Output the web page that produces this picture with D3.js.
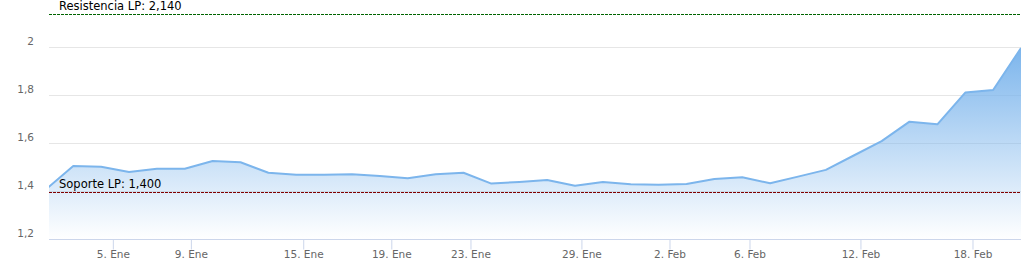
<!DOCTYPE html>
<head>
    <meta charset="utf-8">
    <title>Cotización</title>
    <script src="https://d3js.org/d3.v7.min.js"></script>
    <style>
        body { margin: 0; background: #fff; }
        text { font-family: "DejaVu Sans", Verdana, sans-serif; }
    </style>
</head>
<body>
    <script>
        // valores de cierre, una sesión por punto
        const values = [1.407, 1.506, 1.503, 1.481, 1.495, 1.495, 1.527, 1.522, 1.478, 1.470,
                        1.470, 1.472, 1.465, 1.455, 1.472, 1.478, 1.433, 1.440, 1.448, 1.424,
                        1.440, 1.430, 1.428, 1.431, 1.452, 1.459, 1.434, 1.462, 1.490, 1.550,
                        1.610, 1.691, 1.680, 1.812, 1.823, 1.998]
        // posiciones (en sesiones) de las marcas del eje de fechas
        const tickPos = [2.42, 5.22, 9.25, 12.41, 15.25, 19.23, 22.39, 25.26, 29.24, 33.26]
        const tickLabels = ["5. Ene", "9. Ene", "15. Ene", "19. Ene", "23. Ene",
                            "29. Ene", "2. Feb", "6. Feb", "12. Feb", "18. Feb"]
        const yTicks = [1.2, 1.4, 1.6, 1.8, 2]
        const resistencia = 2.14
        const soporte = 1.4

        const width = 1026
        const height = 272
        const plotLeft = 49, plotRight = 1021, plotTop = 0, plotBottom = 239.5

        const es = d3.formatLocale({decimal: ",", thousands: ".", grouping: [3], currency: ["", " €"]})
        const fmtAxis = es.format("~g")
        const fmtLevel = es.format(".3f")

        const svg = d3.select("body").append("svg")
            .attr("width", width)
            .attr("height", height)

        const x = d3.scaleLinear().domain([0.13, values.length - 1]).range([plotLeft, plotRight])
        const y = d3.scaleLinear().domain([1.2, 2]).range([plotBottom, 47.5])

        const defs = svg.append("defs")
        const grad = defs.append("linearGradient")
            .attr("id", "fill")
            .attr("x1", 0).attr("y1", 0).attr("x2", 0).attr("y2", 1)
        grad.append("stop").attr("offset", 0).attr("stop-color", "#7cb5ec").attr("stop-opacity", 1)
        grad.append("stop").attr("offset", 1).attr("stop-color", "#7cb5ec").attr("stop-opacity", 0)

        defs.append("clipPath").attr("id", "plot")
            .append("rect")
            .attr("x", plotLeft).attr("y", plotTop)
            .attr("width", plotRight - plotLeft).attr("height", plotBottom - plotTop)

        // rejilla
        svg.append("g")
            .selectAll("line")
            .data(yTicks)
            .join("line")
                .attr("x1", plotLeft).attr("x2", plotRight)
                .attr("y1", (d) => y(d)).attr("y2", (d) => y(d))
                .attr("stroke", "#e6e6e6")

        const plot = svg.append("g").attr("clip-path", "url(#plot)")

        plot.append("path")
            .datum(values)
            .attr("fill", "url(#fill)")
            .attr("d", d3.area()
                .x((d, i) => x(i))
                .y0(plotBottom)
                .y1((d) => y(d)))

        plot.append("path")
            .datum(values)
            .attr("fill", "none")
            .attr("stroke", "#7cb5ec")
            .attr("stroke-width", 2)
            .attr("stroke-linejoin", "round")
            .attr("d", d3.line()
                .x((d, i) => x(i))
                .y((d) => y(d)))

        // eje x
        const xAxis = svg.append("g")
            .attr("transform", `translate(0, ${plotBottom})`)
            .call(d3.axisBottom(x)
                .tickValues(tickPos)
                .tickFormat((d, i) => tickLabels[i])
                .tickSize(10)
                .tickPadding(1))
        xAxis.select(".domain").attr("d", `M${plotLeft},0H${plotRight}`).attr("stroke", "#ccd6eb")
        xAxis.selectAll(".tick line").attr("stroke", "#ccd6eb")
        xAxis.selectAll(".tick text")
            .attr("fill", "#666")
            .style("font-size", "10.5px")
            .style("font-family", "'DejaVu Sans', Verdana, sans-serif")

        // eje y
        const yAxis = svg.append("g")
            .attr("transform", `translate(${plotLeft}, 0)`)
            .call(d3.axisLeft(y)
                .tickValues(yTicks)
                .tickFormat(fmtAxis)
                .tickSize(0)
                .tickPadding(15))
        yAxis.select(".domain").remove()
        yAxis.selectAll(".tick text")
            .attr("fill", "#666")
            .attr("dy", "-0.24em")
            .style("font-size", "10.5px")
            .style("font-family", "'DejaVu Sans', Verdana, sans-serif")

        // líneas de resistencia y soporte
        const levels = [
            {name: "Resistencia LP", value: resistencia, color: "#006400"},
            {name: "Soporte LP", value: soporte, color: "#800000"}
        ]
        const lv = svg.append("g").selectAll("g").data(levels).join("g")
        lv.append("line")
            .attr("x1", plotLeft).attr("x2", plotRight)
            .attr("y1", (d) => Math.round(y(d.value)) + 0.5)
            .attr("y2", (d) => Math.round(y(d.value)) + 0.5)
            .attr("stroke", (d) => d.color)
            .attr("stroke-dasharray", "3,1")
        lv.append("text")
            .attr("x", plotLeft + 10)
            .attr("y", (d) => y(d.value) - 3.5)
            .attr("fill", "#000")
            .style("font-size", "11.5px")
            .text((d) => `${d.name}: ${fmtLevel(d.value)}`)
    </script>
</body>
